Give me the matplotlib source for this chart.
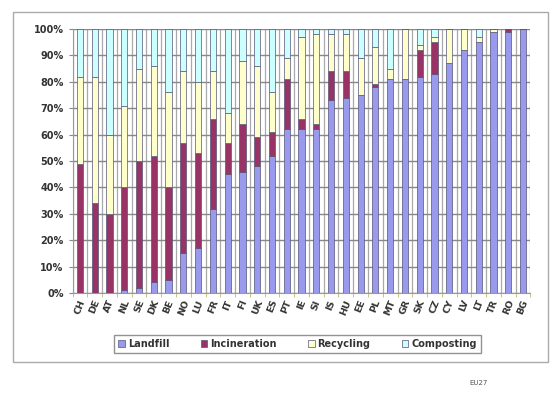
import numpy as np
import matplotlib
matplotlib.use('Agg')
import matplotlib.pyplot as plt
from matplotlib.patches import Rectangle
from matplotlib.ticker import FixedLocator, PercentFormatter

countries = ['CH', 'DE', 'AT', 'NL', 'SE', 'DK', 'BE', 'NO', 'LU', 'FR',
             'IT', 'FI', 'UK', 'ES', 'PT', 'IE', 'SI', 'IS', 'HU', 'EE',
             'PL', 'MT', 'GR', 'SK', 'CZ', 'CY', 'LV', 'LT', 'TR', 'RO', 'BG']

landfill     = [0, 0, 0, 1, 2, 4, 5, 15, 17, 32,
                45, 46, 48, 52, 62, 62, 62, 73, 74, 75,
                78, 81, 81, 82, 83, 87, 92, 95, 99, 99, 100]
incineration = [49, 34, 30, 39, 48, 48, 35, 42, 36, 34,
                12, 18, 11, 9, 19, 4, 2, 11, 10, 0,
                1, 0, 0, 10, 12, 0, 0, 0, 0, 1, 0]
recycling    = [33, 48, 30, 31, 35, 34, 36, 27, 27, 18,
                11, 24, 27, 15, 8, 31, 34, 14, 14, 14,
                14, 4, 19, 2, 2, 13, 8, 2, 1, 0, 0]
composting   = [18, 18, 40, 29, 15, 14, 24, 16, 20, 16,
                32, 12, 14, 24, 11, 3, 2, 2, 2, 11,
                7, 15, 0, 6, 3, 0, 0, 3, 0, 0, 0]

series = [('Landfill', landfill, '#9999ee'),
          ('Incineration', incineration, '#993366'),
          ('Recycling', recycling, '#ffffcc'),
          ('Composting', composting, '#ccffff')]

fig = plt.figure(figsize=(5.52, 3.97), dpi=100)
ax = fig.add_axes([0.1315, 0.262, 0.8295, 0.665])

x = np.arange(len(countries))
bottom = np.zeros(len(countries))
handles = []
for name, vals, col in series:
    vals = np.array(vals, dtype=float)
    h = ax.bar(x, vals, 0.42, bottom=bottom, color=col, edgecolor='#555577',
               linewidth=0.5, label=name, zorder=3)
    handles.append(h)
    bottom += vals

ax.set_xlim(-0.5, len(countries) - 0.5)
ax.set_ylim(0, 100)
ax.set_yticks(np.arange(0, 101, 10))
ax.yaxis.set_major_formatter(PercentFormatter(decimals=0))
ax.set_xticks(x)
ax.set_xticklabels(countries, rotation=68, fontsize=6.8, fontweight='bold',
                   color='#333333')
ax.xaxis.set_minor_locator(FixedLocator(np.arange(-0.5, len(countries), 1)))
ax.tick_params(axis='x', which='major', length=0, pad=4)
ax.tick_params(axis='x', which='minor', length=3, color='#bbbb77')
ax.tick_params(axis='y', labelsize=7, length=3, color='#888888',
               labelcolor='#333333')
for lab in ax.get_yticklabels():
    lab.set_fontweight('bold')

ax.grid(axis='y', color='#888888', linewidth=1.0, zorder=0)
ax.grid(axis='x', which='minor', color='#aaaaaa', linewidth=0.9, zorder=0)
for s in ['top', 'right']:
    ax.spines[s].set_visible(False)
for s in ['left', 'bottom']:
    ax.spines[s].set_color('#999999')

# outer chart frame
fig.patches.append(Rectangle((0.0236, 0.088), 0.969, 0.882, transform=fig.transFigure,
                             fill=False, edgecolor='#aaaaaa', linewidth=1.0))

leg = fig.legend(handles=handles, loc='center', bbox_to_anchor=(0.539, 0.1335),
                 ncol=4, fontsize=7, frameon=True, fancybox=False,
                 edgecolor='#777777', handlelength=0.7, handleheight=0.7,
                 columnspacing=3.2, handletextpad=0.3, borderpad=0.4)
for t in leg.get_texts():
    t.set_fontweight('bold')
    t.set_color('#333333')

fig.text(0.851, 0.030, 'EU27', fontsize=5, color='#555555')

fig.savefig('out.png', dpi=100)
